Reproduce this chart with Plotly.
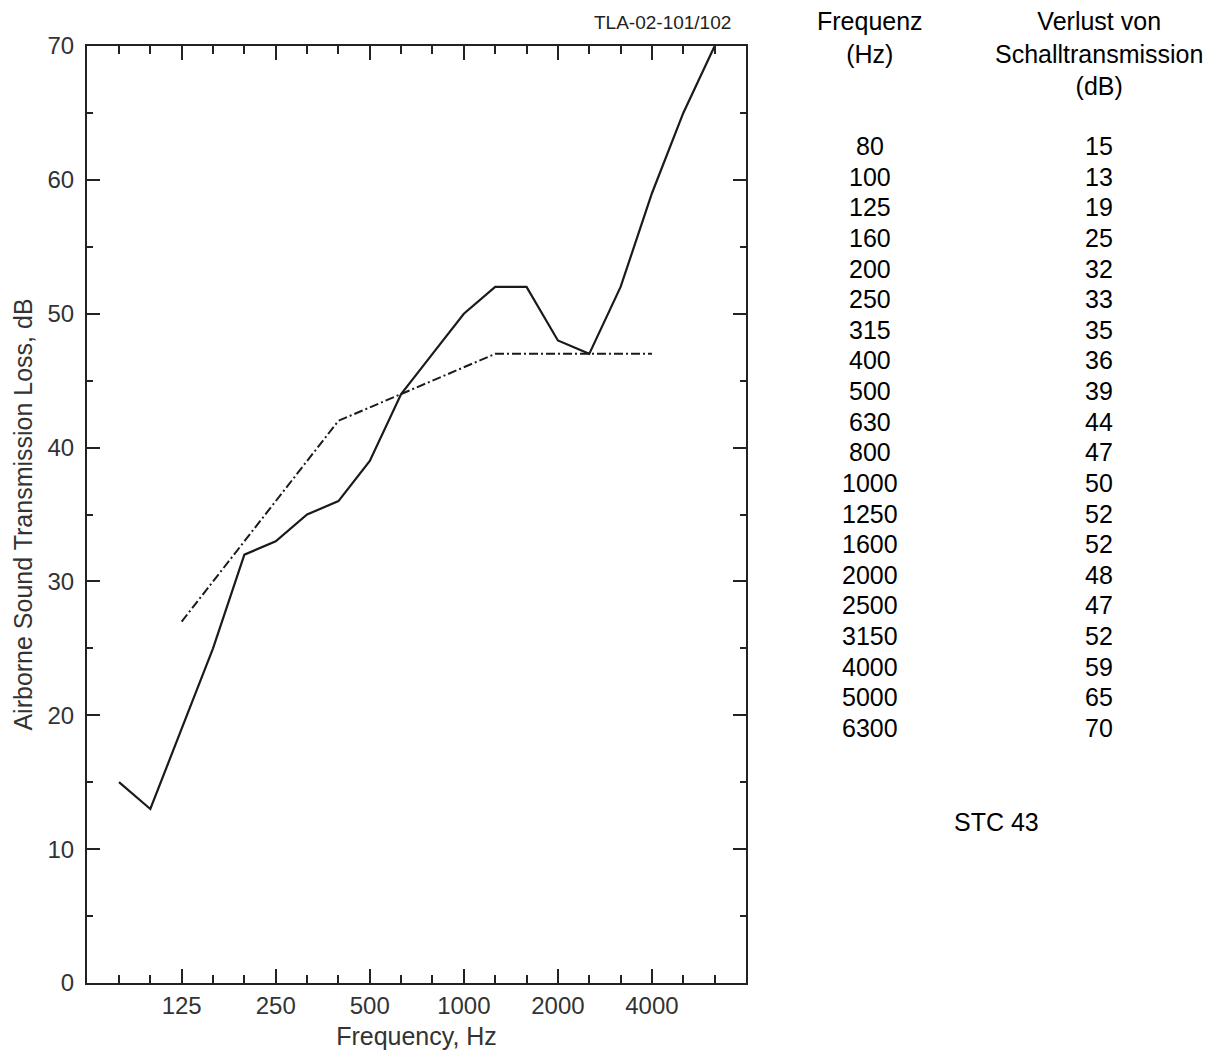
import plotly.graph_objects as go

freqs = [80, 100, 125, 160, 200, 250, 315, 400, 500, 630, 800, 1000,
         1250, 1600, 2000, 2500, 3150, 4000, 5000, 6300]
tl_values = [15, 13, 19, 25, 32, 33, 35, 36, 39, 44, 47, 50,
             52, 52, 48, 47, 52, 59, 65, 70]
stc_freqs = [125, 160, 200, 250, 315, 400, 500, 630, 800, 1000,
             1250, 1600, 2000, 2500, 3150, 4000]
stc_values = [27, 30, 33, 36, 39, 42, 43, 44, 45, 46,
              47, 47, 47, 47, 47, 47]
x_tick_labels = [125, 250, 500, 1000, 2000, 4000]
y_ticks = [0, 10, 20, 30, 40, 50, 60, 70]
stc_rating = 43
report_id = "TLA-02-101/102"

idx = {f: i for i, f in enumerate(freqs)}
x_tl = [idx[f] for f in freqs]
x_stc = [idx[f] for f in stc_freqs]
major_x = [idx[f] for f in x_tick_labels]
minor_x = [i for i in range(len(freqs)) if i not in major_x]

AX = "#222222"
TXT = "#333333"
FAM = "Liberation Sans, Arial, sans-serif"

fig = go.Figure()
fig.add_trace(go.Scatter(x=x_tl, y=tl_values, mode="lines",
                         line=dict(color="#1a1a1a", width=2.2),
                         showlegend=False))
fig.add_trace(go.Scatter(x=x_stc, y=stc_values, mode="lines",
                         line=dict(color="#1a1a1a", width=2, dash="9px,3px,2px,3px"),
                         showlegend=False))

# page offset from the default body margin
OFF = 8
# plot area in page pixels
L, R, T, B = 87, 746, 46, 983
W, H = 1227 - OFF, 1057 - OFF

def px(xp):
    return (xp - L) / (R - L)

def py(yp):
    return (B - yp) / (B - T)

ann = []
fnt = dict(family=FAM, size=25, color="#000000")
ann.append(dict(text="Frequenz<br>(Hz)", x=px(870), y=py(5), xref="paper", yref="paper",
                xanchor="center", yanchor="top", showarrow=False, font=fnt, align="center"))
ann.append(dict(text="Verlust von<br>Schalltransmission<br>(dB)", x=px(1099), y=py(5),
                xref="paper", yref="paper", xanchor="center", yanchor="top",
                showarrow=False, font=fnt, align="center"))
for i, (f, v) in enumerate(zip(freqs, tl_values)):
    yy = py(146 + 30.63 * i)
    ann.append(dict(text=str(f), x=px(870), y=yy, xref="paper", yref="paper",
                    xanchor="center", yanchor="middle", showarrow=False, font=fnt))
    ann.append(dict(text=str(v), x=px(1099), y=yy, xref="paper", yref="paper",
                    xanchor="center", yanchor="middle", showarrow=False, font=fnt))
ann.append(dict(text=f"STC {stc_rating}", x=px(996), y=py(822), xref="paper", yref="paper",
                xanchor="center", yanchor="middle", showarrow=False, font=fnt))
ann.append(dict(text=report_id, x=px(662), y=py(22), xref="paper", yref="paper",
                xanchor="center", yanchor="middle", showarrow=False,
                font=dict(family=FAM, size=19, color="#222222")))

fig.update_layout(
    width=W, height=H,
    margin=dict(l=L - OFF, r=W + OFF - R, t=T - OFF, b=H + OFF - B, pad=0),
    paper_bgcolor="white", plot_bgcolor="white",
    font=dict(family=FAM, size=22, color=TXT),
    annotations=ann,
    xaxis=dict(
        range=[-1.02, len(freqs)], showgrid=False, zeroline=False,
        showline=True, linecolor=AX, linewidth=2, mirror="ticks",
        tickmode="array", tickvals=major_x, ticktext=[str(v) for v in x_tick_labels],
        ticks="inside", ticklen=14, tickwidth=2, tickcolor=AX,
        tickfont=dict(size=24, color=TXT),
        minor=dict(tickmode="array", tickvals=minor_x, ticks="inside",
                   ticklen=8, tickwidth=2, tickcolor=AX, showgrid=False),
        title=dict(text="Frequency, Hz", font=dict(size=25, color=TXT), standoff=10),
        automargin=False,
    ),
    yaxis=dict(
        range=[0, 70], showgrid=False, zeroline=False,
        showline=True, linecolor=AX, linewidth=2, mirror="ticks",
        tickmode="array", tickvals=y_ticks,
        ticks="inside", ticklen=13, tickwidth=2, tickcolor=AX,
        tickfont=dict(size=24, color=TXT), ticklabelstandoff=6,
        minor=dict(dtick=5, ticks="inside", ticklen=6, tickwidth=2,
                   tickcolor=AX, showgrid=False),
        title=dict(text="Airborne Sound Transmission Loss, dB",
                   font=dict(size=25, color=TXT), standoff=8),
        automargin=False,
    ),
)

fig.write_html("out.html")
